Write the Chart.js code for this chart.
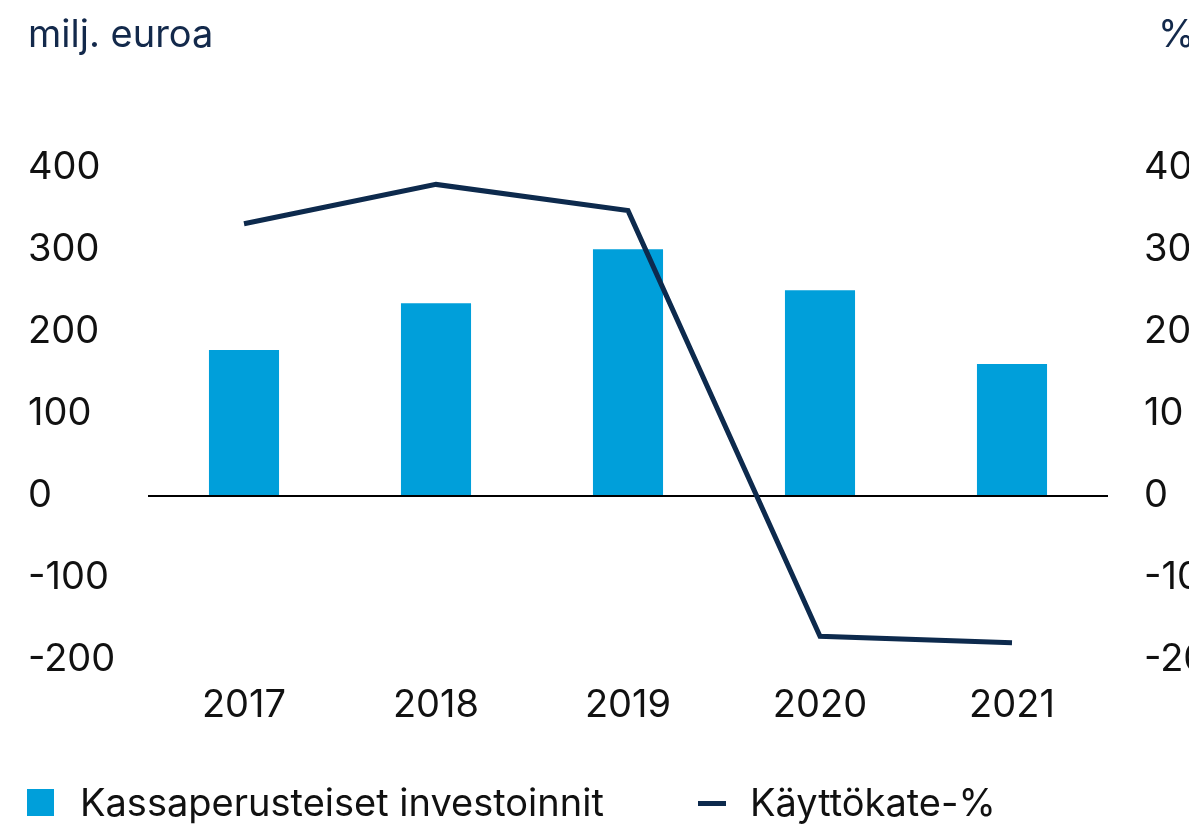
<!DOCTYPE html>
<html>
<head>
<meta charset="utf-8">
<script src="https://cdn.jsdelivr.net/npm/chart.js@4.4.0/dist/chart.umd.min.js"></script>
<style>
  html, body { margin: 0; padding: 0; background: #ffffff; }
  #wrap { position: relative; width: 1189px; height: 824px; overflow: hidden; font-family: Inter, "Noto Sans", sans-serif; }
  #c { position: absolute; left: 0; top: 0; }
  .t { position: absolute; font-size: 38px; line-height: 38px; white-space: nowrap; }
  .unit { color: #13294b; top: 14px; }
  .leg { color: #111111; top: 783px; }
  .box { position: absolute; }
</style>
</head>
<body>
<div id="wrap">
  <canvas id="c" width="1189" height="824"></canvas>
  <div class="t unit" style="left:28px;">milj. euroa</div>
  <div class="t unit" style="left:1158px;">%</div>
  <div class="box" style="left:27px; top:789px; width:27px; height:27px; background:#009fda;"></div>
  <div class="t leg" style="left:80px;">Kassaperusteiset investoinnit</div>
  <div class="box" style="left:698px; top:801px; width:28px; height:5px; background:#0d2a4d;"></div>
  <div class="t leg" style="left:750px;">Käyttökate-%</div>
</div>
<script>
const categories = ['2017', '2018', '2019', '2020', '2021'];
const investments = [178, 235, 301, 251, 161];
const ebitdaPct = [33.2, 38.0, 34.8, -17.1, -17.9];
const leftTicks = [-200, -100, 0, 100, 200, 300, 400];
const rightTicks = [-20, -10, 0, 10, 20, 30, 40];

const BAR = '#009fda';
const LINE = '#0d2a4d';
const FONT = { family: 'Inter, "Noto Sans", sans-serif', size: 38, weight: '400' };

new Chart(document.getElementById('c'), {
  data: {
    labels: categories,
    datasets: [
      {
        type: 'bar',
        label: 'Kassaperusteiset investoinnit',
        data: investments,
        backgroundColor: BAR,
        borderWidth: 0,
        yAxisID: 'y',
        categoryPercentage: 1,
        barPercentage: 0.365,
        order: 1
      },
      {
        type: 'line',
        label: 'Käyttökate-%',
        data: ebitdaPct,
        borderColor: LINE,
        backgroundColor: LINE,
        borderWidth: 5,
        tension: 0,
        pointRadius: 0,
        pointHoverRadius: 0,
        borderJoinStyle: 'miter',
        borderCapStyle: 'butt',
        fill: false,
        yAxisID: 'y1',
        order: 0
      }
    ]
  },
  options: {
    responsive: false,
    animation: false,
    events: [],
    layout: { padding: { top: 168, left: 28, right: 0, bottom: 84 } },
    plugins: {
      legend: { display: false },
      title: { display: false },
      tooltip: { enabled: false }
    },
    scales: {
      x: {
        type: 'category',
        grid: { display: false },
        border: { display: false },
        ticks: { color: '#111111', font: FONT, padding: 15, maxRotation: 0 },
        afterFit: (s) => { s.height = 80; }
      },
      y: {
        type: 'linear',
        position: 'left',
        min: leftTicks[0],
        max: leftTicks[leftTicks.length - 1],
        afterBuildTicks: (s) => { s.ticks = leftTicks.map(v => ({ value: v })); },
        ticks: { color: '#111111', font: FONT, crossAlign: 'far', padding: 10 },
        border: { display: false },
        grid: {
          drawTicks: false,
          color: (ctx) => (ctx.tick && ctx.tick.value === 0 ? '#000000' : 'rgba(0,0,0,0)'),
          lineWidth: (ctx) => (ctx.tick && ctx.tick.value === 0 ? 2 : 0)
        },
        afterFit: (s) => { s.width = 120; }
      },
      y1: {
        type: 'linear',
        position: 'right',
        min: rightTicks[0],
        max: rightTicks[rightTicks.length - 1],
        afterBuildTicks: (s) => { s.ticks = rightTicks.map(v => ({ value: v })); },
        ticks: { color: '#111111', font: FONT, crossAlign: 'near', padding: 36 },
        border: { display: false },
        grid: { display: false, drawTicks: false },
        afterFit: (s) => { s.width = 81; }
      }
    }
  }
});
</script>
</body>
</html>
